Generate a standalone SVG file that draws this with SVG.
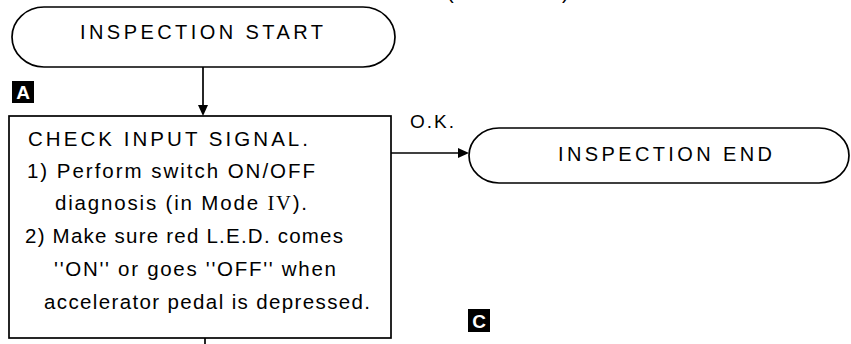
<svg xmlns="http://www.w3.org/2000/svg" width="851" height="344" viewBox="0 0 851 344">
<style>
.shape{fill:none;stroke:#000;stroke-width:1.7}
.t{font-family:"Liberation Sans",Arial,sans-serif;fill:#000}
.lbl{font-size:20px}
.body{font-size:20.5px}
.tag{font-family:"Liberation Sans",Arial,sans-serif;font-weight:bold;font-size:19px;fill:#fff}
.conn{stroke:#000;stroke-width:1.7;fill:none}
.head{fill:#000}
</style>
<rect width="851" height="344" fill="#fff"/>
<text class="t" x="447" y="-1" font-size="20">(</text>
<text class="t" x="562" y="-1" font-size="20">)</text>
<g id="start">
<rect class="shape" x="12" y="7" width="383" height="60" rx="32" ry="30"/>
<text class="t lbl" x="80" y="39" textLength="243" lengthAdjust="spacing">INSPECTION START</text>
</g>
<g id="tagA">
<rect x="12" y="81" width="22" height="22" fill="#000"/>
<text class="tag" x="23" y="99" text-anchor="middle">A</text>
</g>
<g id="check">
<rect class="shape" x="9" y="116" width="382" height="222"/>
<text class="t body" x="28" y="146" textLength="280" lengthAdjust="spacing">CHECK  INPUT  SIGNAL.</text>
<text class="t body" x="27" y="178" textLength="288" lengthAdjust="spacing">1) Perform switch ON/OFF</text>
<text class="t body" x="55" y="210" textLength="252" lengthAdjust="spacing">diagnosis (in Mode <tspan font-family="'Liberation Serif',serif">IV</tspan>).</text>
<text class="t body" x="25" y="243" textLength="318" lengthAdjust="spacing">2) Make sure red L.E.D. comes</text>
<text class="t body" x="54" y="276" textLength="282" lengthAdjust="spacing">''ON'' or goes ''OFF'' when</text>
<text class="t body" x="44" y="309" textLength="326" lengthAdjust="spacing">accelerator pedal is depressed.</text>
</g>
<g id="end">
<rect class="shape" x="469" y="128" width="380" height="55" rx="30" ry="27.5"/>
<text class="t lbl" x="558" y="161" textLength="214" lengthAdjust="spacing">INSPECTION END</text>
</g>
<g id="tagC">
<rect x="468" y="309" width="22" height="23" fill="#000"/>
<text class="tag" x="479" y="327.5" text-anchor="middle">C</text>
</g>
<g id="connectors">
<line class="conn" x1="203" y1="67" x2="203" y2="106"/>
<polygon class="head" points="198,105 208,105 203,116"/>
<line class="conn" x1="391" y1="153" x2="459" y2="153"/>
<polygon class="head" points="458,148 458,158 469,153"/>
<text class="t" x="410" y="128" font-size="19" textLength="44" lengthAdjust="spacing">O.K.</text>
<line class="conn" x1="205" y1="338" x2="205" y2="344"/>
</g>
</svg>
